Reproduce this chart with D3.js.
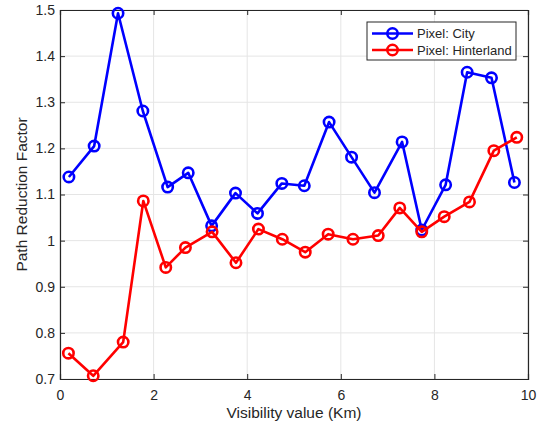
<!DOCTYPE html>
<html>
<head>
<meta charset="utf-8">
<script src="https://cdn.jsdelivr.net/npm/d3@7"></script>
<style>
  body { margin: 0; background: #fff; }
  text { font-family: "Liberation Sans", Arial, sans-serif; fill: #262626; }
</style>
</head>
<body>
<div id="chart"></div>
<script>
// ============ data ============
var cityX = [0.19, 0.73, 1.24, 1.77, 2.30, 2.74, 3.24, 3.75, 4.22, 4.74, 5.22, 5.75, 6.23, 6.72, 7.31, 7.73, 8.24, 8.70, 9.22, 9.71];
var cityY = [1.138, 1.205, 1.493, 1.281, 1.116, 1.147, 1.032, 1.103, 1.059, 1.124, 1.119, 1.257, 1.181, 1.104, 1.214, 1.023, 1.121, 1.365, 1.353, 1.126];
var hintX = [0.18, 0.71, 1.35, 1.78, 2.26, 2.68, 3.25, 3.76, 4.24, 4.75, 5.24, 5.73, 6.26, 6.80, 7.26, 7.73, 8.21, 8.75, 9.27, 9.76];
var hintY = [0.756, 0.707, 0.780, 1.086, 0.942, 0.985, 1.019, 0.952, 1.025, 1.003, 0.975, 1.014, 1.003, 1.011, 1.071, 1.019, 1.052, 1.084, 1.195, 1.224];
var xTicks = [0, 2, 4, 6, 8, 10];
var yTicks = [0.7, 0.8, 0.9, 1, 1.1, 1.2, 1.3, 1.4, 1.5];
var seriesNames = ["Pixel: City", "Pixel: Hinterland"];
var seriesColors = ["#0000ff", "#ff0000"];

//============ Set up chart =====================
var svgWidth = 542;
var svgHeight = 428;
var margin = { top: 10, right: 14, bottom: 49, left: 60 };
var width = svgWidth - margin.left - margin.right;
var height = svgHeight - margin.top - margin.bottom;

var svg = d3.select("#chart")
  .append("svg")
  .attr("width", svgWidth)
  .attr("height", svgHeight);

var chartGroup = svg.append("g")
  .attr("transform", `translate(${margin.left}, ${margin.top})`);

var xScale = d3.scaleLinear().domain([0, 10]).range([0, width]);
var yScale = d3.scaleLinear().domain([0.7, 1.5]).range([height, 0]);

// grid
chartGroup.append("g")
  .selectAll("line.vgrid")
  .data(xTicks)
  .enter()
  .append("line")
  .attr("x1", d => xScale(d)).attr("x2", d => xScale(d))
  .attr("y1", 0).attr("y2", height)
  .attr("stroke", "#e5e5e5").attr("stroke-width", 1);

chartGroup.append("g")
  .selectAll("line.hgrid")
  .data(yTicks)
  .enter()
  .append("line")
  .attr("x1", 0).attr("x2", width)
  .attr("y1", d => yScale(d)).attr("y2", d => yScale(d))
  .attr("stroke", "#e5e5e5").attr("stroke-width", 1);

// axes (ticks inside, like matlab)
var bottomAxis = d3.axisBottom(xScale).tickValues(xTicks).tickSize(-5).tickPadding(11).tickFormat(d3.format("d"));
var leftAxis = d3.axisLeft(yScale).tickValues(yTicks).tickSize(-5).tickPadding(5).tickFormat(d => d === 1 ? "1" : d3.format(".1f")(d));
var topAxis = d3.axisTop(xScale).tickValues(xTicks).tickSize(-5).tickFormat("");
var rightAxis = d3.axisRight(yScale).tickValues(yTicks).tickSize(-5).tickFormat("");

function styleAxis(g) {
  g.select(".domain").attr("stroke", "#262626").attr("stroke-width", 1.2);
  g.selectAll(".tick line").attr("stroke", "#262626").attr("stroke-width", 1);
  g.selectAll(".tick text").style("font-size", "14px").attr("fill", "#262626");
}

chartGroup.append("g").attr("transform", `translate(0, ${height})`).call(bottomAxis).call(styleAxis);
chartGroup.append("g").call(leftAxis).call(styleAxis);
chartGroup.append("g").call(topAxis).call(styleAxis);
chartGroup.append("g").attr("transform", `translate(${width}, 0)`).call(rightAxis).call(styleAxis);

// series
var series = [
  { x: cityX, y: cityY },
  { x: hintX, y: hintY }
];

var line = d3.line()
  .x(d => xScale(d[0]))
  .y(d => yScale(d[1]));

series.forEach(function(s, i) {
  var pts = s.x.map((v, j) => [v, s.y[j]]);
  chartGroup.append("path")
    .datum(pts)
    .attr("fill", "none")
    .attr("stroke", seriesColors[i])
    .attr("stroke-width", 2.6)
    .attr("stroke-linejoin", "round")
    .attr("d", line);

  chartGroup.append("g")
    .selectAll("circle")
    .data(pts)
    .enter()
    .append("circle")
    .attr("cx", d => xScale(d[0]))
    .attr("cy", d => yScale(d[1]))
    .attr("r", 5.2)
    .attr("fill", "none")
    .attr("stroke", seriesColors[i])
    .attr("stroke-width", 2.6);
});

// axis labels
chartGroup.append("text")
  .attr("x", width / 2)
  .attr("y", height + 39)
  .attr("text-anchor", "middle")
  .style("font-size", "15.5px")
  .text("Visibility value (Km)");

chartGroup.append("text")
  .attr("transform", "rotate(-90)")
  .attr("x", -height / 2)
  .attr("y", -33)
  .attr("text-anchor", "middle")
  .style("font-size", "15.5px")
  .text("Path Reduction Factor");

// legend
var legend = svg.append("g").attr("transform", "translate(367, 22)");
legend.append("rect")
  .attr("x", 0).attr("y", 0)
  .attr("width", 149).attr("height", 38)
  .attr("fill", "#fff")
  .attr("stroke", "#262626")
  .attr("stroke-width", 1);

seriesNames.forEach(function(name, i) {
  var yy = 11.5 + i * 16.5;
  legend.append("line")
    .attr("x1", 5).attr("x2", 46)
    .attr("y1", yy).attr("y2", yy)
    .attr("stroke", seriesColors[i])
    .attr("stroke-width", 2.6);
  legend.append("circle")
    .attr("cx", 25.5).attr("cy", yy).attr("r", 5.2)
    .attr("fill", "none")
    .attr("stroke", seriesColors[i])
    .attr("stroke-width", 2.6);
  legend.append("text")
    .attr("x", 50).attr("y", yy + 4.5)
    .style("font-size", "13px")
    .text(name);
});
</script>
</body>
</html>
